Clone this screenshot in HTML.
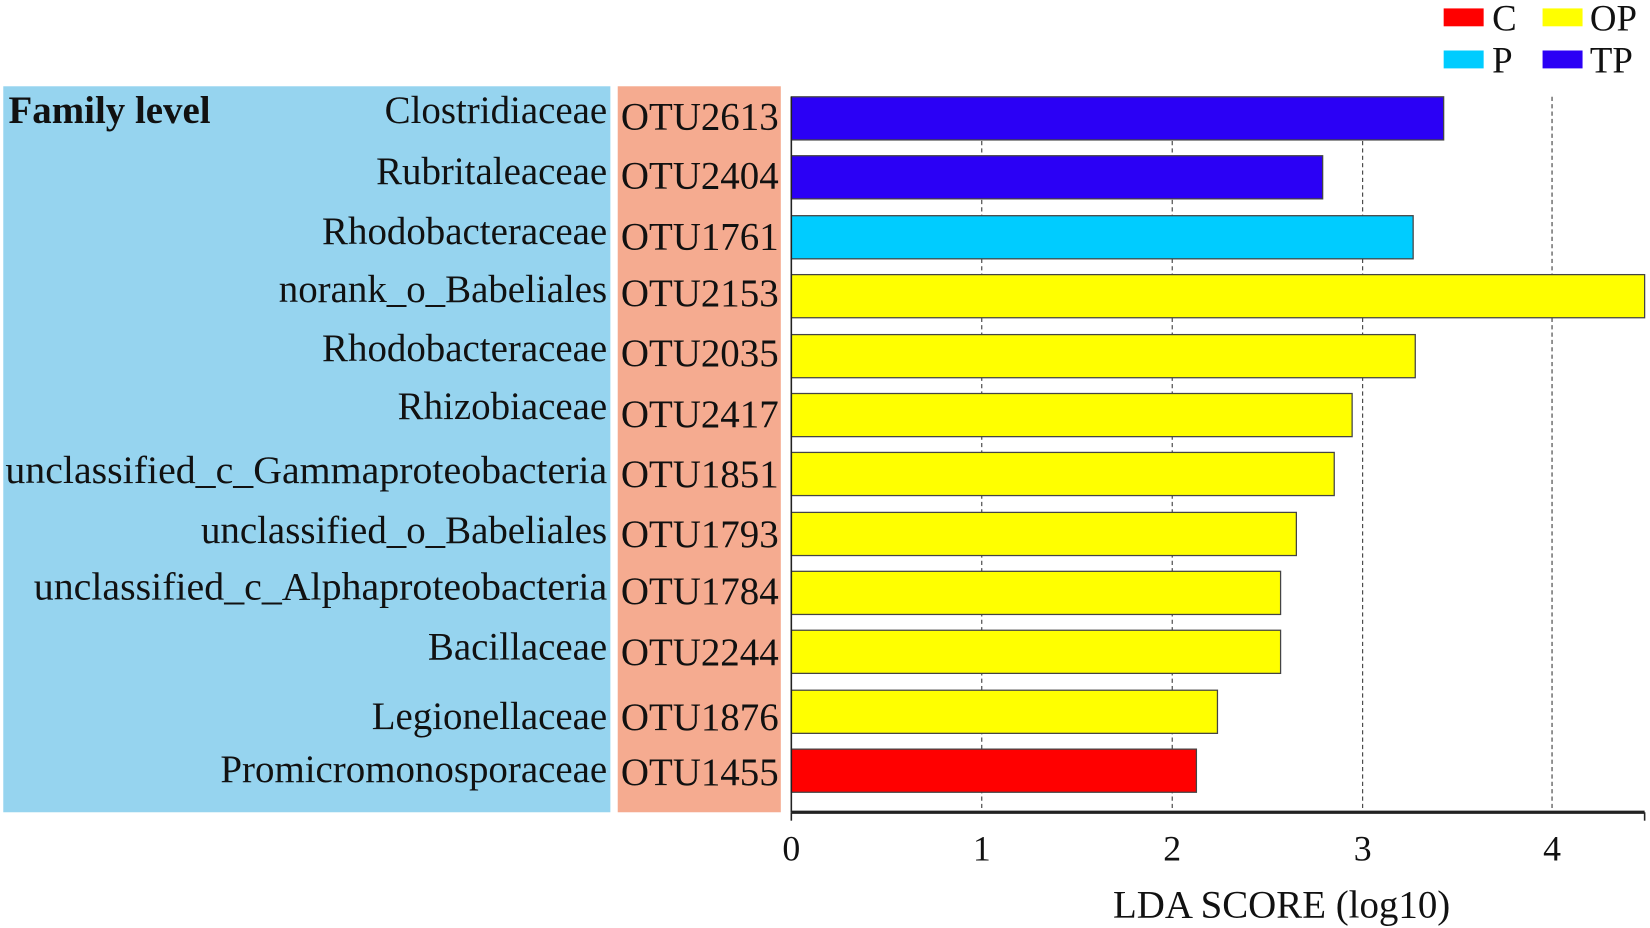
<!DOCTYPE html>
<html><head><meta charset="utf-8"><style>html,body{margin:0;padding:0;background:#fff}svg{display:block}</style></head>
<body>
<svg width="1650" height="928" viewBox="0 0 1568 882" xmlns="http://www.w3.org/2000/svg" font-family="Liberation Serif, serif">
<rect x="3" y="82" width="577" height="690" fill="#96d4ef"/>
<rect x="587" y="82" width="155" height="690" fill="#f5ab90"/>
<g stroke="#333" stroke-width="1" stroke-dasharray="4,3">
<line x1="933" y1="92" x2="933" y2="772"/><line x1="1114" y1="92" x2="1114" y2="772"/>
<line x1="1295" y1="92" x2="1295" y2="772"/><line x1="1475" y1="92" x2="1475" y2="772"/>
</g>
<g stroke="#444" stroke-width="1.2">
<rect x="752" y="92" width="620" height="41" fill="#2b00f5"/>
<rect x="752" y="148" width="505" height="41" fill="#2b00f5"/>
<rect x="752" y="205" width="591" height="41" fill="#00ccff"/>
<rect x="752" y="261" width="811" height="41" fill="#ffff00"/>
<rect x="752" y="318" width="593" height="41" fill="#ffff00"/>
<rect x="752" y="374" width="533" height="41" fill="#ffff00"/>
<rect x="752" y="430" width="516" height="41" fill="#ffff00"/>
<rect x="752" y="487" width="480" height="41" fill="#ffff00"/>
<rect x="752" y="543" width="465" height="41" fill="#ffff00"/>
<rect x="752" y="599" width="465" height="41" fill="#ffff00"/>
<rect x="752" y="656" width="405" height="41" fill="#ffff00"/>
<rect x="752" y="712" width="385" height="41" fill="#ff0000"/>
</g>
<line x1="752" y1="92" x2="752" y2="772" stroke="#222" stroke-width="1.5"/>
<line x1="752" y1="772" x2="1563" y2="772" stroke="#222" stroke-width="3"/>
<line x1="752" y1="772" x2="752" y2="780" stroke="#222" stroke-width="1.5"/>
<line x1="1563" y1="772" x2="1563" y2="780" stroke="#222" stroke-width="1.5"/>
<g font-size="34" fill="#111" text-anchor="middle">
<text x="752" y="818">0</text><text x="933" y="818">1</text><text x="1114" y="818">2</text><text x="1295" y="818">3</text><text x="1475" y="818">4</text>
<text x="1218" y="872" font-size="37">LDA SCORE (log10)</text>
</g>
<text x="8" y="117" font-size="37" font-weight="bold" fill="#111">Family level</text>
<g font-size="37" fill="#111" text-anchor="end">
<text x="577" y="117">Clostridiaceae</text>
<text x="577" y="175">Rubritaleaceae</text>
<text x="577" y="232">Rhodobacteraceae</text>
<text x="577" y="287">norank_o_Babeliales</text>
<text x="577" y="343">Rhodobacteraceae</text>
<text x="577" y="398">Rhizobiaceae</text>
<text x="577" y="459" textLength="572" lengthAdjust="spacingAndGlyphs">unclassified_c_Gammaproteobacteria</text>
<text x="577" y="516">unclassified_o_Babeliales</text>
<text x="577" y="570" textLength="545" lengthAdjust="spacingAndGlyphs">unclassified_c_Alphaproteobacteria</text>
<text x="577" y="627">Bacillaceae</text>
<text x="577" y="693">Legionellaceae</text>
<text x="577" y="743">Promicromonosporaceae</text>
</g>
<g font-size="37" fill="#111" text-anchor="middle">
<text x="665" y="123">OTU2613</text>
<text x="665" y="179">OTU2404</text>
<text x="665" y="237">OTU1761</text>
<text x="665" y="291">OTU2153</text>
<text x="665" y="348">OTU2035</text>
<text x="665" y="406">OTU2417</text>
<text x="665" y="463">OTU1851</text>
<text x="665" y="520">OTU1793</text>
<text x="665" y="574">OTU1784</text>
<text x="665" y="632">OTU2244</text>
<text x="665" y="694">OTU1876</text>
<text x="665" y="746">OTU1455</text>
</g>
<rect x="1372" y="8" width="38" height="17" fill="#ff0000"/>
<rect x="1466" y="8" width="38" height="17" fill="#ffff00"/>
<rect x="1372" y="48" width="38" height="17" fill="#00ccff"/>
<rect x="1466" y="48" width="38" height="17" fill="#2b00f5"/>
<g font-size="35" fill="#111">
<text x="1418" y="29">C</text><text x="1511" y="29">OP</text>
<text x="1418" y="69">P</text><text x="1511" y="69">TP</text>
</g>
</svg>
</body></html>
